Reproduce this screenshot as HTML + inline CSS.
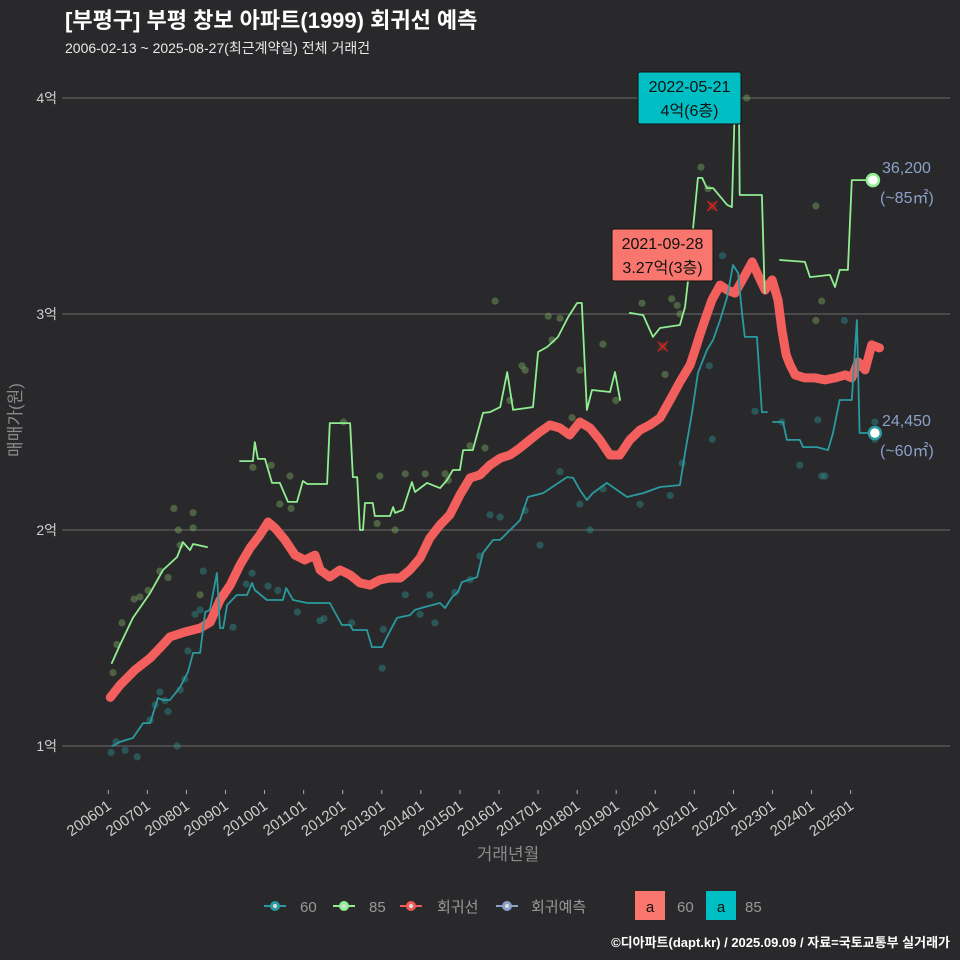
<!DOCTYPE html>
<html><head><meta charset="utf-8">
<style>
html,body{margin:0;padding:0;background:#29292b;}
svg{display:block;font-family:"Liberation Sans","Noto Sans CJK KR",sans-serif;}
</style></head>
<body>
<svg id="chart" width="960" height="960" viewBox="0 0 960 960">
<rect x="0" y="0" width="960" height="960" fill="#29292b"/>
<text x="65" y="28" fill="#ffffff" font-size="22" font-weight="bold">[부평구] 부평 창보 아파트(1999) 회귀선 예측</text>
<text x="65" y="53" fill="#e8e8e8" font-size="14">2006-02-13 ~ 2025-08-27(최근계약일) 전체 거래건</text>
<g id="grid"></g>
<g id="yticks"></g>
<g id="xticks"></g>
<text transform="translate(21,420) rotate(-90)" text-anchor="middle" fill="#8a8a8a" font-size="17">매매가(원)</text>
<text x="508" y="860" text-anchor="middle" fill="#8a8a8a" font-size="17">거래년월</text>
<g id="marks"></g>
<g id="legend">
  <g>
    <line x1="264" y1="906" x2="286" y2="906" stroke="#2a9aa0" stroke-width="2"/><circle cx="275" cy="906" r="5" fill="#2a9aa0"/><circle cx="275" cy="906" r="2" fill="#ddd"/>
    <text x="300" y="912" fill="#999" font-size="15">60</text></g>
  <g>
    <line x1="333" y1="906" x2="355" y2="906" stroke="#90ee90" stroke-width="2"/><circle cx="344" cy="906" r="5" fill="#90ee90"/><circle cx="344" cy="906" r="2" fill="#ddd"/>
    <text x="369" y="912" fill="#999" font-size="15">85</text></g>
  <g>
    <line x1="400" y1="906" x2="422" y2="906" stroke="#f05a5a" stroke-width="2"/><circle cx="411" cy="906" r="5" fill="#f05a5a"/><circle cx="411" cy="906" r="2" fill="#ddd"/>
    <text x="437" y="912" fill="#999" font-size="15">회귀선</text></g>
  <g>
    <line x1="496" y1="906" x2="518" y2="906" stroke="#8aa0c8" stroke-width="2"/><circle cx="507" cy="906" r="5" fill="#8aa0c8"/><circle cx="507" cy="906" r="2" fill="#ddd"/>
    <text x="531" y="912" fill="#999" font-size="15">회귀예측</text></g>
  <g>
    <rect x="635" y="891" width="30" height="29" fill="#f8766d"/><text x="650" y="912" text-anchor="middle" fill="#111" font-size="15">a</text>
    <text x="677" y="912" fill="#999" font-size="15">60</text></g>
  <g>
    <rect x="706" y="891" width="30" height="29" fill="#00bfc4"/><text x="721" y="912" text-anchor="middle" fill="#111" font-size="15">a</text>
    <text x="745" y="912" fill="#999" font-size="15">85</text></g>
</g>
<text x="950" y="947" text-anchor="end" fill="#ffffff" font-size="13" font-weight="bold">©디아파트(dapt.kr) / 2025.09.09 / 자료=국토교통부 실거래가</text>
</svg>
<script>
// ---- data (years as decimal, prices in 억) ----
const yTicks = [1, 2, 3, 4];
const yTickLabels = ["1억", "2억", "3억", "4억"];
const xTicks = [2006,2007,2008,2009,2010,2011,2012,2013,2014,2015,2016,2017,2018,2019,2020,2021,2022,2023,2024,2025];
const xTickLabels = ["200601","200701","200801","200901","201001","201101","201201","201301","201401","201501","201601","201701","201801","201901","202001","202101","202201","202301","202401","202501"];

const green1T = [2006.09,2006.30,2006.63,2007.07,2007.40,2007.76,2007.91,2008.09,2008.17,2008.53];
const green1V = [1.384,1.468,1.593,1.708,1.815,1.875,1.944,1.907,1.935,1.921];
const green2T = [2009.37,2009.70,2009.75,2009.83,2010.01,2010.19,2010.39,2010.60,2010.83,2010.98,2011.09,2011.60,2011.67,2012.19,2012.26,2012.37,2012.44,2012.52,2012.57,2012.77,2012.82,2013.21,2013.29,2013.34,2013.54,2013.77,2013.85,2014.16,2014.49,2014.67,2014.82,2015.00,2015.08,2015.33,2015.59,2015.77,2016.03,2016.21,2016.36,2016.87,2017.00,2017.23,2017.51,2017.77,2018.00,2018.12,2018.25,2018.38,2018.84,2018.97,2019.10];
const green2V = [2.319,2.319,2.407,2.329,2.329,2.218,2.218,2.130,2.130,2.227,2.213,2.213,2.495,2.495,2.245,2.245,2.000,2.000,2.125,2.125,2.065,2.065,2.106,2.079,2.093,2.222,2.176,2.218,2.194,2.231,2.278,2.278,2.370,2.370,2.542,2.546,2.569,2.731,2.556,2.569,2.824,2.847,2.894,2.986,3.051,3.051,2.556,2.648,2.639,2.731,2.602];
const green3T = [2019.35,2019.69,2019.94,2020.12,2020.63,2020.76,2020.84,2020.97,2021.09,2021.20,2021.32,2021.48,2021.84,2021.96,2022.04,2022.14,2022.16,2022.73,2022.80];
const green3V = [3.005,2.995,2.894,2.935,2.949,3.032,3.157,3.403,3.630,3.630,3.583,3.583,3.505,3.495,3.991,3.991,3.551,3.551,3.097];
const green4T = [2023.19,2023.83,2023.96,2024.47,2024.60,2024.72,2024.93,2025.03,2025.57];
const green4V = [3.250,3.241,3.171,3.181,3.125,3.204,3.204,3.620,3.620];

const teal1T = [2006.10,2006.30,2006.63,2006.89,2007.07,2007.27,2007.40,2007.58,2007.84,2008.04,2008.17,2008.35,2008.48,2008.60,2008.78,2008.86,2008.94,2009.04,2009.29,2009.55,2009.68,2009.75,2010.06,2010.47,2010.55,2010.73,2011.09,2011.67,2011.98,2012.19,2012.26,2012.62,2012.75,2013.01,2013.13,2013.39,2013.72,2013.85,2014.11,2014.49,2014.62,2014.80,2014.95,2015.05,2015.44,2015.59,2015.85,2016.03,2016.54,2016.74,2017.13,2017.74,2017.90,2018.07,2018.25,2018.40,2018.76,2019.28,2019.69,2020.12,2020.63,2020.76,2020.94,2021.09,2021.32,2021.48,2021.66,2021.84,2021.99,2022.12,2022.22,2022.29,2022.60,2022.73,2022.86];
const teal1V = [1.000,1.019,1.037,1.106,1.106,1.222,1.213,1.213,1.273,1.343,1.431,1.431,1.620,1.630,1.801,1.546,1.546,1.653,1.699,1.699,1.755,1.722,1.676,1.676,1.731,1.676,1.662,1.662,1.560,1.560,1.537,1.537,1.458,1.458,1.505,1.593,1.606,1.630,1.644,1.662,1.639,1.690,1.713,1.759,1.782,1.894,1.954,1.954,2.046,2.153,2.171,2.245,2.241,2.185,2.139,2.171,2.218,2.153,2.171,2.199,2.208,2.356,2.542,2.727,2.833,2.880,2.972,3.079,3.227,3.190,3.005,2.894,2.894,2.546,2.546];
const teal2T = [2023.01,2023.27,2023.37,2023.70,2023.78,2024.14,2024.42,2024.55,2024.72,2025.03,2025.16,2025.23,2025.62];
const teal2V = [2.500,2.500,2.417,2.417,2.384,2.384,2.370,2.449,2.602,2.602,2.972,2.449,2.449];

const regT = [2006.05,2006.30,2006.68,2007.07,2007.32,2007.58,2007.96,2008.35,2008.61,2008.86,2009.12,2009.37,2009.63,2009.88,2010.09,2010.27,2010.52,2010.78,2011.03,2011.29,2011.42,2011.67,2011.93,2012.19,2012.44,2012.70,2012.95,2013.21,2013.47,2013.72,2013.98,2014.23,2014.49,2014.74,2015.00,2015.26,2015.51,2015.77,2016.03,2016.28,2016.54,2016.79,2017.05,2017.30,2017.56,2017.81,2018.07,2018.33,2018.58,2018.84,2019.09,2019.35,2019.61,2019.86,2020.12,2020.38,2020.63,2020.89,2021.02,2021.14,2021.27,2021.45,2021.66,2021.84,2022.04,2022.30,2022.48,2022.63,2022.81,2022.99,2023.14,2023.24,2023.35,2023.45,2023.58,2023.83,2024.09,2024.35,2024.60,2024.86,2025.03,2025.19,2025.37,2025.54,2025.74];
const regV = [1.225,1.282,1.352,1.407,1.454,1.505,1.528,1.546,1.574,1.676,1.745,1.838,1.917,1.977,2.037,2.009,1.954,1.884,1.861,1.884,1.815,1.783,1.815,1.792,1.755,1.745,1.769,1.778,1.778,1.815,1.870,1.963,2.023,2.070,2.162,2.241,2.255,2.301,2.333,2.347,2.380,2.417,2.454,2.486,2.472,2.440,2.500,2.472,2.417,2.347,2.347,2.417,2.463,2.486,2.519,2.602,2.685,2.764,2.834,2.903,2.972,3.065,3.134,3.111,3.097,3.181,3.241,3.181,3.111,3.158,3.065,2.926,2.810,2.764,2.718,2.704,2.704,2.695,2.704,2.718,2.704,2.778,2.741,2.857,2.843];

const gDotT = [2006.12,2006.22,2006.35,2006.66,2006.81,2007.02,2007.32,2007.53,2007.68,2007.79,2007.84,2008.17,2008.17,2008.35,2009.70,2010.17,2010.65,2010.68,2010.39,2012.02,2012.95,2013.34,2012.88,2013.60,2014.11,2014.62,2014.70,2015.26,2015.64,2015.90,2016.28,2016.59,2016.67,2017.36,2017.26,2017.56,2017.87,2018.07,2018.66,2018.99,2019.66,2020.25,2020.42,2020.56,2020.63,2021.17,2021.35,2022.34,2024.11,2024.26,2024.11];
const gDotV = [1.34,1.47,1.57,1.68,1.69,1.72,1.81,1.78,2.10,2.00,1.93,2.08,2.01,1.70,2.29,2.30,2.25,2.10,2.12,2.50,2.25,2.00,2.03,2.26,2.26,2.26,2.23,2.39,2.38,3.06,2.60,2.76,2.74,2.88,2.99,2.98,2.52,2.74,2.86,2.60,3.05,2.72,3.07,3.04,3.00,3.68,3.58,4.00,3.50,3.06,2.97];
const tDotT = [2006.07,2006.20,2006.43,2006.74,2007.07,2007.20,2007.32,2007.45,2007.53,2007.76,2007.84,2007.96,2008.04,2008.22,2008.35,2008.43,2009.19,2009.53,2009.68,2010.09,2010.34,2010.84,2011.42,2011.52,2012.23,2013.01,2013.04,2013.60,2013.98,2014.36,2014.23,2014.87,2015.26,2015.51,2015.77,2016.03,2016.67,2017.05,2017.56,2018.07,2018.33,2018.66,2019.61,2020.38,2020.69,2021.38,2021.46,2021.72,2022.55,2023.24,2023.70,2024.26,2024.34,2024.16,2024.84,2025.62,2025.62];
const tDotV = [0.97,1.02,0.98,0.95,1.12,1.19,1.25,1.21,1.16,1.00,1.26,1.31,1.44,1.61,1.63,1.81,1.55,1.75,1.80,1.74,1.72,1.62,1.58,1.59,1.57,1.36,1.54,1.70,1.61,1.57,1.70,1.71,1.77,1.88,2.07,2.06,2.09,1.93,2.27,2.12,2.00,2.19,2.12,2.16,2.31,2.76,2.42,3.27,2.55,2.50,2.30,2.25,2.25,2.51,2.97,2.42,2.50];
const crossT = [2021.46, 2020.19];
const crossV = [3.50, 2.85];

// ---- axes ----
const X0 = 108.3, PXY = 39.07;
function xs(t){ return X0 + (t - 2006) * PXY; }
function ys(v){ return 746 - (v - 1) * 216; }
const NS = "http://www.w3.org/2000/svg";
function mk(tag, attrs, parent){ const e = document.createElementNS(NS, tag); for (const k in attrs) e.setAttribute(k, attrs[k]); parent.appendChild(e); return e; }

const grid = document.getElementById('grid'), yt = document.getElementById('yticks'), xt = document.getElementById('xticks'), marks = document.getElementById('marks');
yTicks.forEach((v, i) => {
  const l = mk('line', {x1: 62, x2: 950, y1: ys(v), y2: ys(v), stroke: '#6a6a6a', 'stroke-width': 1}, grid);
  
  
  const t = mk('text', {x: 57, y: ys(v) + 5, 'text-anchor': 'end', fill: '#cfcfcf', 'font-size': 14}, yt);
  t.textContent = yTickLabels[i];
  
  
});
xTicks.forEach((v, i) => {
  const x = xs(v);
  const tk = mk('line', {x1: x, x2: x, y1: 790, y2: 794, stroke: '#aaa', 'stroke-width': 1}, xt);
  
  
  const t = mk('text', {x: x + 4, y: 808, 'text-anchor': 'end', fill: '#cfcfcf', 'font-size': 15, transform: `rotate(-35 ${x + 4} 808)`}, xt);
  t.textContent = xTickLabels[i];
  
  
});

function dots(T, V, fill, name){
  T.forEach((t, i) => {
    const c = mk('circle', {cx: xs(t), cy: ys(V[i]), r: 3.6, fill: fill, 'fill-opacity': 0.45}, marks);
    
    
  });
}
function line(T, V, stroke, w, name, op){
  const d = T.map((t, i) => (i ? 'L' : 'M') + xs(t).toFixed(1) + ',' + ys(V[i]).toFixed(1)).join('');
  const p = mk('path', {d: d, fill: 'none', stroke: stroke, 'stroke-width': w, 'stroke-linejoin': 'round', 'stroke-linecap': 'round', 'stroke-opacity': op || 1}, marks);
  
  
}
dots(tDotT, tDotV, '#2f8f8f', 'dot-60');
dots(gDotT, gDotV, '#7aa860', 'dot-85');
line(regT, regV, '#f25f5c', 9, 'regression-line');
line(teal1T, teal1V, '#2a9aa0', 1.8, 'line-60');
line(teal2T, teal2V, '#2a9aa0', 1.8, 'line-60');
line(green1T, green1V, '#90ee90', 1.8, 'line-85');
line(green2T, green2V, '#90ee90', 1.8, 'line-85');
line(green3T, green3V, '#90ee90', 1.8, 'line-85');
line(green4T, green4V, '#90ee90', 1.8, 'line-85');
crossT.forEach((t, i) => {
  const x = xs(t), y = ys(crossV[i]);
  const g = mk('g', {}, marks);
  
  
  mk('circle', {cx: x, cy: y, r: 4, fill: '#7a3a2a', 'fill-opacity': 0.6}, g);
  mk('path', {d: `M${x-5},${y-5}L${x+5},${y+5}M${x-5},${y+5}L${x+5},${y-5}`, stroke: '#e02020', 'stroke-width': 1.3}, g);
});
// end points
function endpt(t, v, col, l1, l2, name){
  const x = xs(t), y = ys(v);
  const g = mk('g', {}, marks);
  
  
  mk('circle', {cx: x, cy: y, r: 6, fill: '#ffffff', stroke: col, 'stroke-width': 2.5}, g);
  const a = mk('text', {x: 882, y: y - 7, fill: '#8aa0c8', 'font-size': 16}, g); a.textContent = l1;
  const b = mk('text', {x: 880, y: y + 23, fill: '#8aa0c8', 'font-size': 16}, g); b.textContent = l2;
}
endpt(green4T[green4T.length-1], green4V[green4V.length-1], '#90ee90', '36,200', '(~85㎡)', 'end-label-85');
endpt(teal2T[teal2T.length-1], teal2V[teal2V.length-1], '#2a9aa0', '24,450', '(~60㎡)', 'end-label-60');
// annotation boxes
function box(x, y, w, h, fill, l1, l2, name){
  const g = mk('g', {}, marks);
  
  
  mk('rect', {x: x, y: y, width: w, height: h, rx: 2, fill: fill, stroke: '#111', 'stroke-width': 1}, g);
  const a = mk('text', {x: x + w/2, y: y + 20, 'text-anchor': 'middle', fill: '#111', 'font-size': 16}, g); a.textContent = l1;
  const b = mk('text', {x: x + w/2, y: y + 44, 'text-anchor': 'middle', fill: '#111', 'font-size': 16}, g); b.textContent = l2;
}
box(638, 72, 103, 52, '#00bfc4', '2022-05-21', '4억(6층)', 'annotation-max-85');
box(612, 229, 101, 52, '#f8766d', '2021-09-28', '3.27억(3층)', 'annotation-max-60');
</script>
</body></html>
